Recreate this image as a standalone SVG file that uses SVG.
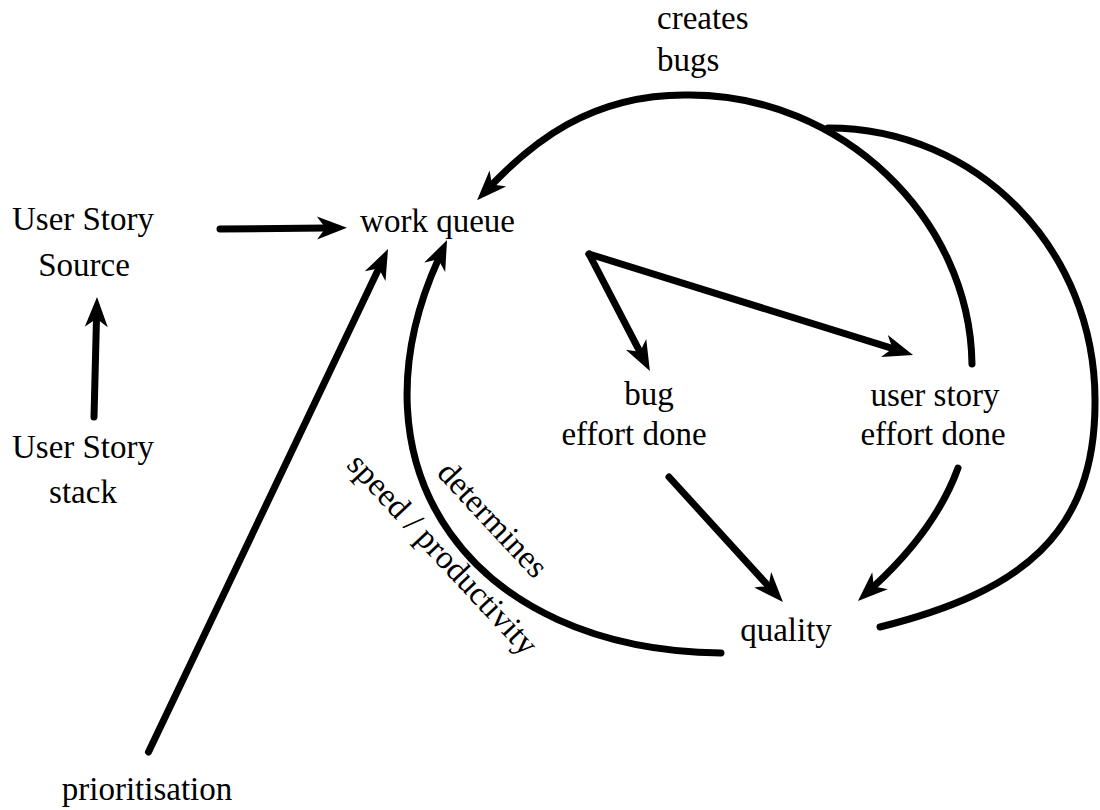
<svg xmlns="http://www.w3.org/2000/svg" width="1100" height="810" viewBox="0 0 1100 810">
<style>
  .t { font-family: "Liberation Serif", "DejaVu Serif", serif; font-size: 33px; fill: #000; }
  .m { text-anchor: middle; }
  .c { fill: none; stroke: #000; stroke-width: 7; stroke-linecap: round; stroke-linejoin: round; }
  .a { marker-end: url(#ah); }
</style>
<defs>
  <marker id="ah" markerUnits="userSpaceOnUse" markerWidth="40" markerHeight="30" viewBox="-5 -15 40 30" refX="9" refY="0" orient="auto" overflow="visible">
    <path d="M30,0 L0,-11.5 Q6,-3 9,0 Q6,3 0,11.5 Z" fill="#000"/>
  </marker>
</defs>
<rect width="1100" height="810" fill="#fff"/>

<g id="connectors">
  <path class="c a" d="M220,229 L326,228"/>
  <path class="c a" d="M94,417 L96.5,318"/>
  <path class="c a" d="M148.5,752 L379,268"/>
  <path class="c a" d="M721,653 C470,650 344,468 438.4,259.1"/>
  <path class="c a" d="M589,254 L640.2,352.4"/>
  <path class="c a" d="M589,254 L893,348.7"/>
  <path class="c a" d="M669,477 L768.8,586.5"/>
  <path class="c a" d="M958,468 C941,515 906.5,556.3 873.4,586.8"/>
  <path class="c a" d="M972,364 C970,217 840,95 690,95 C590,93 530,145 491.6,185"/>
  <path class="c" d="M880,627 C1020,592 1096,535 1095,400 C1095,250 978,128 828,128"/>
</g>

<g id="labels">
  <text class="t" x="657" y="29">creates</text>
  <text class="t" x="657" y="71">bugs</text>
  <text class="t m" transform="translate(485,527) rotate(47)">determines</text>
  <text class="t m" transform="translate(435,561.5) rotate(47)">speed / productivity</text>
</g>

<g id="user-story-source">
  <text class="t m" x="83" y="230">User Story</text>
  <text class="t m" x="84" y="276">Source</text>
</g>
<g id="user-story-stack">
  <text class="t m" x="83" y="458">User Story</text>
  <text class="t m" x="83" y="503">stack</text>
</g>
<g id="work-queue">
  <text class="t m" x="437.5" y="232">work queue</text>
</g>
<g id="bug-effort-done">
  <text class="t m" x="649" y="405">bug</text>
  <text class="t m" x="634" y="445">effort done</text>
</g>
<g id="user-story-effort-done">
  <text class="t m" x="935" y="406">user story</text>
  <text class="t m" x="933" y="445">effort done</text>
</g>
<g id="quality">
  <text class="t m" x="786" y="641">quality</text>
</g>
<g id="prioritisation">
  <text class="t m" x="147" y="800">prioritisation</text>
</g>
</svg>
